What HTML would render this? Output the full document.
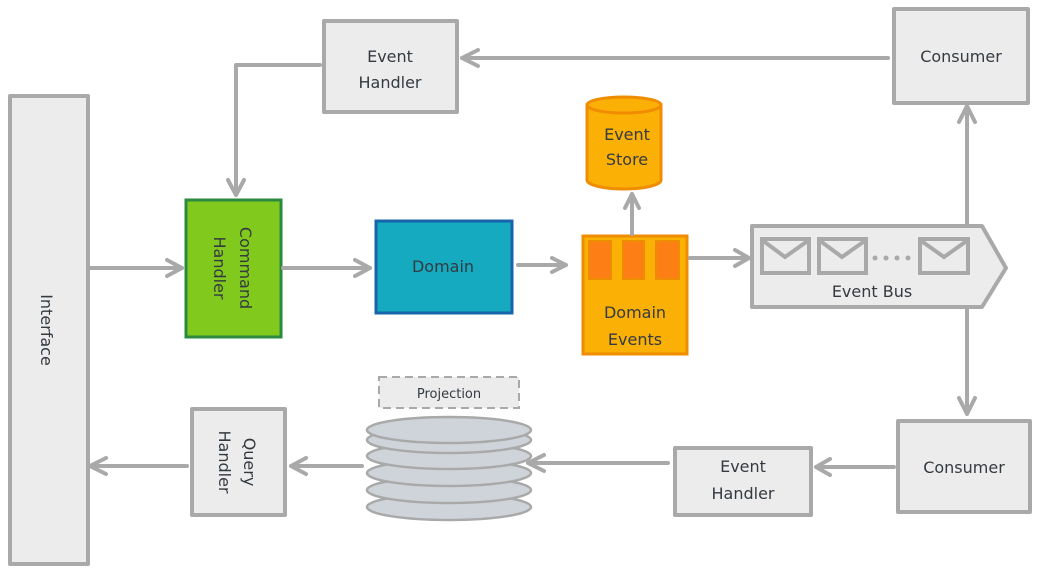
<!DOCTYPE html>
<html><head><meta charset="utf-8"><style>
html,body{margin:0;padding:0;background:#fff;width:1041px;height:573px;overflow:hidden}
text{font-family:"DejaVu Sans","Liberation Sans",sans-serif;font-size:16px;fill:#343a40}
</style></head><body>
<svg width="1041" height="573" viewBox="0 0 1041 573" xmlns="http://www.w3.org/2000/svg">
<g fill="#ececec" stroke="#a9a9a9" stroke-width="4" stroke-linejoin="round">
<rect x="10" y="96" width="78" height="468"/>
<rect x="324" y="21" width="133" height="91"/>
<rect x="894" y="9" width="134" height="94"/>
<rect x="898" y="421" width="132" height="91"/>
<rect x="675" y="448" width="136" height="67"/>
<rect x="192" y="409" width="93" height="106"/>
<polygon points="752,226 982,226 1006,268 982,307 752,307"/>
</g>
<g fill="none" stroke="#a9a9a9" stroke-width="4">
<rect x="762" y="239" width="47" height="34"/><polyline points="762,240 785,257 809,240"/>
<rect x="819" y="239" width="47" height="34"/><polyline points="819,240 842,257 866,240"/>
<rect x="920" y="239" width="48" height="34"/><polyline points="920,240 944,257 968,240"/>
</g>
<g fill="#a9a9a9"><circle cx="875" cy="258" r="2.5"/><circle cx="886" cy="258" r="2.5"/><circle cx="897" cy="258" r="2.5"/><circle cx="908" cy="258" r="2.5"/></g>
<rect x="186" y="200" width="95" height="137" fill="#82c91e" stroke="#2b8a3e" stroke-width="3"/>
<rect x="376" y="221" width="136" height="92" fill="#15aabf" stroke="#1864ab" stroke-width="3"/>
<rect x="583" y="236" width="104" height="118" fill="#fab005" stroke="#f08c00" stroke-width="3"/>
<g fill="#fd7e14" stroke="#f08c00" stroke-width="2">
<rect x="589" y="241" width="22" height="38"/><rect x="623" y="241" width="21" height="38"/><rect x="656" y="241" width="23" height="38"/>
</g>
<path d="M587,105 L587,180 A37,9 0 0 0 661,180 L661,105 Z" fill="#fab005" stroke="#f08c00" stroke-width="3"/>
<ellipse cx="624" cy="105" rx="37" ry="8" fill="#fab005" stroke="#f08c00" stroke-width="3"/>
<rect x="379" y="377" width="140" height="31" fill="#ececec" stroke="#a9a9a9" stroke-width="2" stroke-dasharray="8,5"/>
<g fill="#ced4da" stroke="#a9a9a9" stroke-width="2.5">
<ellipse cx="449" cy="507" rx="82" ry="13"/>
<ellipse cx="449" cy="490" rx="82" ry="13"/>
<ellipse cx="449" cy="473" rx="82" ry="13"/>
<ellipse cx="449" cy="456" rx="82" ry="13"/>
<ellipse cx="449" cy="440" rx="82" ry="13"/>
<ellipse cx="449" cy="430" rx="82" ry="13"/>
</g>
<g fill="none" stroke="#a9a9a9" stroke-width="4" stroke-linecap="round" stroke-linejoin="round">
<path d="M888,58 L462,58 M478,50 L462,58 L478,66"/>
<path d="M320,65 L236,65 L236,195 M228,180 L236,195 L244,180"/>
<path d="M90,268 L182,268 M167,260 L182,268 L167,276"/>
<path d="M283,268 L370,268 M355,260 L370,268 L355,276"/>
<path d="M518,265 L566,265 M552,258 L566,265 L552,272"/>
<path d="M632,234 L632,194 M625,208 L632,194 L639,208"/>
<path d="M690,258 L749,258 M735,250 L749,258 L735,266"/>
<path d="M967,224 L967,106 M959,122 L967,106 L975,122"/>
<path d="M967,308 L967,414 M959,398 L967,414 L975,398"/>
<path d="M894,467 L816,467 M830,459 L816,467 L830,475"/>
<path d="M668,463 L528,463 M544,455 L528,463 L544,471"/>
<path d="M362,466 L291,466 M306,458 L291,466 L306,474"/>
<path d="M187,466 L90,466 M106,458 L90,466 L106,474"/>
</g>
<text x="390" y="62" text-anchor="middle">Event</text>
<text x="390" y="88" text-anchor="middle">Handler</text>
<text x="961" y="62" text-anchor="middle">Consumer</text>
<text x="964" y="473" text-anchor="middle">Consumer</text>
<text x="743" y="472" text-anchor="middle">Event</text>
<text x="743" y="499" text-anchor="middle">Handler</text>
<text x="443" y="272" text-anchor="middle">Domain</text>
<text x="627" y="140" text-anchor="middle">Event</text>
<text x="627" y="165" text-anchor="middle">Store</text>
<text x="635" y="318" text-anchor="middle">Domain</text>
<text x="635" y="345" text-anchor="middle">Events</text>
<text x="872" y="297" text-anchor="middle">Event Bus</text>
<text x="449" y="398" text-anchor="middle" style="font-size:13px">Projection</text>
<text transform="translate(41,330) rotate(90)" text-anchor="middle">Interface</text>
<text transform="translate(240,268) rotate(90)" text-anchor="middle">Command</text>
<text transform="translate(214,268) rotate(90)" text-anchor="middle">Handler</text>
<text transform="translate(244,462) rotate(90)" text-anchor="middle">Query</text>
<text transform="translate(219,462) rotate(90)" text-anchor="middle">Handler</text>
</svg>
</body></html>
